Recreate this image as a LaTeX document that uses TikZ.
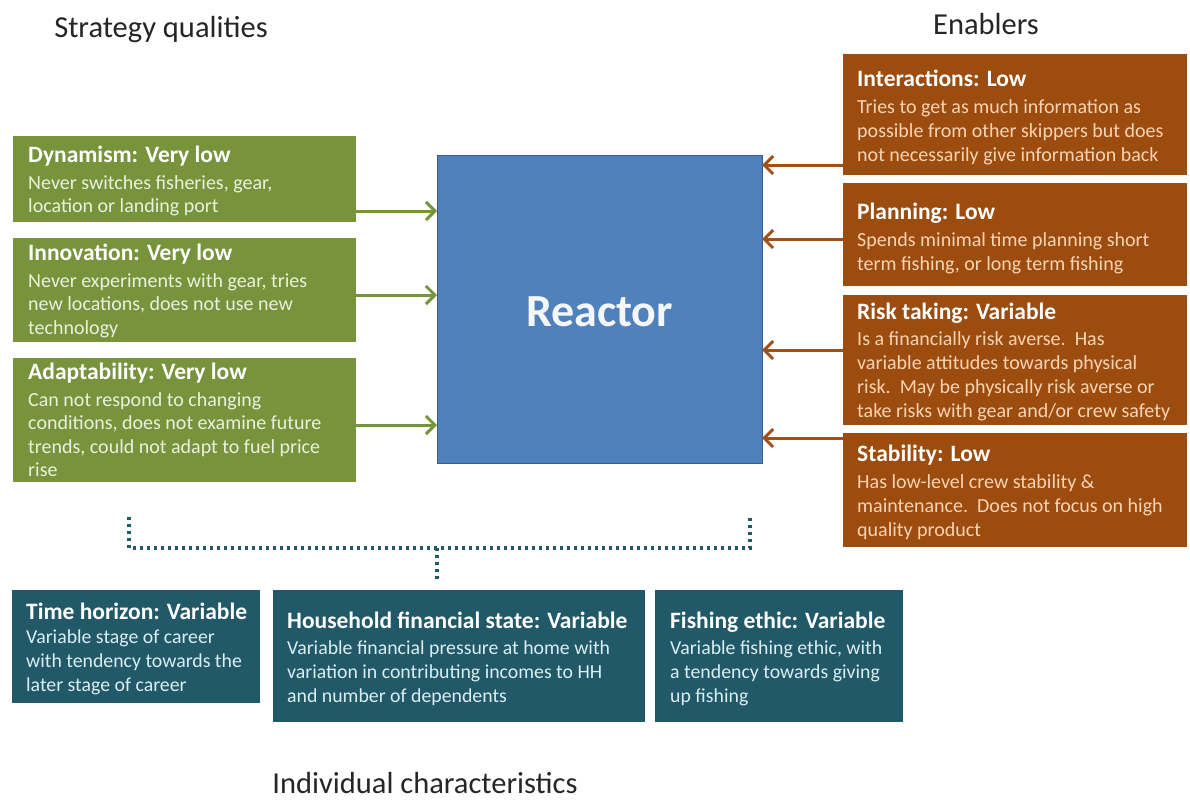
\documentclass[tikz,border=0pt]{standalone}
\usepackage{fontspec}
\setmainfont{Carlito}
\usetikzlibrary{arrows.meta,calc}

\definecolor{qgreen}{HTML}{77933C}
\definecolor{qgreentxt}{HTML}{EBF1DE}
\definecolor{eorange}{HTML}{9C4C0E}
\definecolor{eorangetxt}{HTML}{FBD4B4}
\definecolor{eorangearr}{HTML}{A0501A}
\definecolor{iteal}{HTML}{215968}
\definecolor{itealtxt}{HTML}{DAEEF3}
\definecolor{rblue}{HTML}{4F81BD}
\definecolor{rbluedark}{HTML}{385D8A}
\definecolor{headtxt}{HTML}{262626}

\newcommand{\boxhead}[1]{{\fontsize{23.5}{24}\selectfont\bfseries\color{white}#1}}

\begin{document}
\begin{tikzpicture}[x=1pt,y=-1pt,
  panel/.style={rectangle, inner sep=0pt, outer sep=0pt, anchor=north west},
  gpanel/.style={panel, fill=qgreen},
  opanel/.style={panel, fill=eorange},
  tpanel/.style={panel, fill=iteal},
  paneltext/.style={inner sep=0pt, anchor=north west, align=left},
  gtext/.style={paneltext, text=qgreentxt, font=\fontsize{20}{23.5}\selectfont},
  otext/.style={paneltext, text=eorangetxt, font=\fontsize{20}{24}\selectfont},
  ttext/.style={paneltext, text=itealtxt, font=\fontsize{19.8}{24}\selectfont},
  heading/.style={inner sep=0pt, text=headtxt, font=\fontsize{30.5}{34}\selectfont},
  garrow/.style={draw=qgreen, line width=3pt, -{Straight Barb[length=9pt,width=18pt]}},
  oarrow/.style={draw=eorangearr, line width=3pt, -{Straight Barb[length=9pt,width=18pt]}},
  bracket/.style={draw=iteal, line width=3.5pt, dash pattern=on 3pt off 4pt}
]
\useasboundingbox[fill=white] (0,0) rectangle (1190,801);

% headings
\node[heading] (hstrat) at (161,30) {Strategy qualities};
\node[heading] (henab) at (986,24) {Enablers};
\node[heading] (hindiv) at (425,783) {Individual characteristics};

% central box
\node[panel, fill=rblue, draw=rbluedark, line width=1pt,
      minimum width=325pt, minimum height=308pt] (reactor) at (437,155) {};
\node[text=white!94!rblue, font=\fontsize{46}{50}\selectfont\bfseries]
      (rlabel) at ($(reactor.center)+(0,3)$) {Reactor};

% strategy qualities
\node[gpanel, minimum width=343pt, minimum height=86pt] (dyn) at (13,136) {};
\node[gpanel, minimum width=343pt, minimum height=104pt] (inn) at (13,238) {};
\node[gpanel, minimum width=343pt, minimum height=124pt] (ada) at (13,358) {};

\node[gtext] (dyntxt) at ($(dyn.north west)+(15,10)$)
  {\boxhead{Dynamism: Very low}\\[3pt]
   Never switches fisheries, gear,\\
   location or landing port};
\node[gtext] (inntxt) at ($(inn.north west)+(15,6)$)
  {\boxhead{Innovation: Very low}\\[3pt]
   Never experiments with gear, tries\\
   new locations, does not use new\\
   technology};
\node[gtext] (adatxt) at ($(ada.north west)+(15,5)$)
  {\boxhead{Adaptability: Very low}\\[3pt]
   Can not respond to changing\\
   conditions, does not examine future\\
   trends, could not adapt to fuel price\\
   rise};

% enablers
\node[opanel, minimum width=344pt, minimum height=121pt] (int) at (843,54) {};
\node[opanel, minimum width=344pt, minimum height=103pt] (pla) at (843,183) {};
\node[opanel, minimum width=344pt, minimum height=130pt] (ris) at (843,295) {};
\node[opanel, minimum width=344pt, minimum height=114pt] (sta) at (843,433) {};

\node[otext] (inttxt) at ($(int.north west)+(14,16)$)
  {\boxhead{Interactions: Low}\\[3pt]
   Tries to get as much information as\\
   possible from other skippers but does\\
   not necessarily give information back};
\node[otext] (platxt) at ($(pla.north west)+(14,20)$)
  {\boxhead{Planning: Low}\\[3pt]
   Spends minimal time planning short\\
   term fishing, or long term fishing};
\node[otext] (ristxt) at ($(ris.north west)+(14,8)$)
  {\boxhead{Risk taking: Variable}\\[2pt]
   Is a financially risk averse.\ \ Has\\
   variable attitudes towards physical\\
   risk.\ \ May be physically risk averse or\\
   take risks with gear and/or crew safety};
\node[otext] (statxt) at ($(sta.north west)+(14,12)$)
  {\boxhead{Stability: Low}\\[3pt]
   Has low-level crew stability \&\\
   maintenance.\ \ Does not focus on high\\
   quality product};

% individual characteristics
\node[tpanel, minimum width=248pt, minimum height=113pt] (tim) at (12,590) {};
\node[tpanel, minimum width=372pt, minimum height=132pt] (hou) at (273,590) {};
\node[tpanel, minimum width=248pt, minimum height=132pt] (fis) at (655,590) {};

\node[ttext] (timtxt) at ($(tim.north west)+(14,13)$)
  {\boxhead{Time horizon: Variable}\\[0pt]
   Variable stage of career\\
   with tendency towards the\\
   later stage of career};
\node[ttext] (houtxt) at ($(hou.north west)+(14,22)$)
  {\boxhead{Household financial state: Variable}\\[2pt]
   Variable financial pressure at home with\\
   variation in contributing incomes to HH\\
   and number of dependents};
\node[ttext] (fistxt) at ($(fis.north west)+(15,22)$)
  {\boxhead{Fishing ethic: Variable}\\[2pt]
   Variable fishing ethic, with\\
   a tendency towards giving\\
   up fishing};

% connectors into the central box
\draw[garrow] (dyn.east |- 0,211) -- (reactor.west |- 0,211);
\draw[garrow] (inn.east |- 0,295) -- (reactor.west |- 0,295);
\draw[garrow] (ada.east |- 0,425) -- (reactor.west |- 0,425);

\draw[oarrow] (int.west |- 0,165) -- (reactor.east |- 0,165);
\draw[oarrow] (pla.west |- 0,239) -- (reactor.east |- 0,239);
\draw[oarrow] (ris.west |- 0,350) -- (reactor.east |- 0,350);
\draw[oarrow] (sta.west |- 0,438) -- (reactor.east |- 0,438);

% dotted bracket grouping the characteristics
\coordinate (brl) at (129,517);
\coordinate (brr) at (750,517);
\coordinate (brm) at (437,548);
\coordinate (brend) at (437,580);
\draw[bracket] (brl) -- (brl |- brm) -- (brr |- brm) -- (brr);
\draw[bracket] (brm) -- (brend);
\end{tikzpicture}
\end{document}
